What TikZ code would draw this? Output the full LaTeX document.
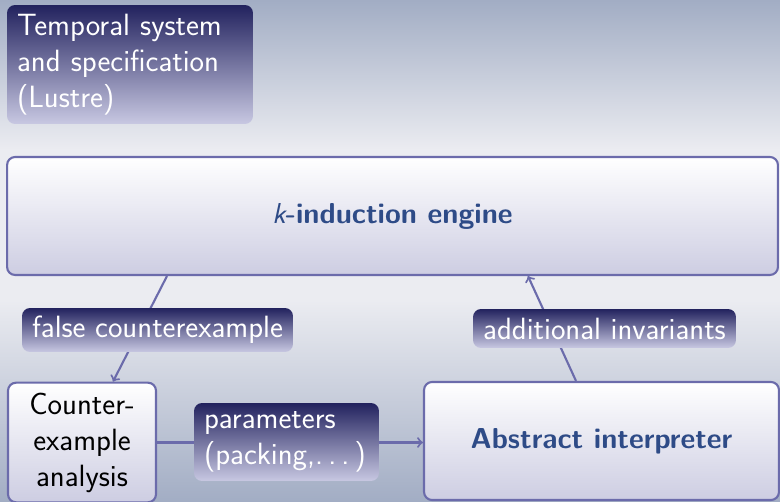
\documentclass[tikz,border=0pt]{standalone}
\usepackage{tikz}
\usetikzlibrary{shapes, arrows, positioning, calc}

\definecolor{slideEdge}{HTML}{A2ADC4}
\definecolor{slideMid}{HTML}{EBECF1}
\definecolor{lineBlue}{HTML}{6B6BAB}
\definecolor{navyTop}{HTML}{22225E}
\definecolor{navyBot}{HTML}{C8C8E2}
\definecolor{boxBot}{HTML}{CDCDE2}
\definecolor{headBlue}{HTML}{2E4B87}

\begin{document}
\begin{tikzpicture}[x=0.02cm,y=-0.02cm,
    every node/.style={font=\sffamily\fontsize{17.5}{20.5}\selectfont},
    box_node/.style={rectangle, rounded corners=0.16cm, draw=lineBlue, line width=1.2pt,
        top color=white, bottom color=boxBot, align=center, inner sep=0.2cm},
    head_text/.style={text=headBlue, font=\sffamily\bfseries\fontsize{16.4}{20}\selectfont},
    tag_node/.style={rectangle, rounded corners=0.16cm, top color=navyTop, bottom color=navyBot,
        text=white, align=left, inner xsep=0.2cm, inner ysep=0.1cm},
    link/.style={draw=lineBlue, line width=1.2pt},
    ]
    % Background
    \useasboundingbox (0,0) rectangle (780,502);
    \fill[slideMid] (0,0) rectangle (780,502);
    \shade[top color=slideEdge, bottom color=slideMid] (0,0) rectangle (780,150);
    \shade[top color=slideMid, bottom color=slideEdge] (0,300) rectangle (780,502);

    % Nodes
    \node[tag_node, minimum width=4.92cm, minimum height=2.38cm, text width=4.52cm] (spec) at (130,64.5) {Temporal system\\and specification\\(Lustre)};
    \node[box_node, head_text, minimum width=15.42cm, minimum height=2.36cm] (kind) at (392.5,216) {{\mdseries\itshape k}-induction engine};
    \node[box_node, minimum width=2.96cm, minimum height=2.30cm] (cex) at (82,442.5) {Counter-\\example\\analysis};
    \node[box_node, head_text, minimum width=7.10cm, minimum height=2.36cm] (absint) at (601.5,441) {Abstract interpreter};

    % Arrows
    \draw[link, ->] ([xshift=3.22cm]kind.south west) -- ([xshift=0.62cm]cex.north);
    \draw[link, ->] (cex.east) -- (cex.east -| absint.west);
    \draw[link, ->] ([xshift=-0.51cm]absint.north) -- ([xshift=2.71cm]kind.south);

    % Labels on the arrows
    \node[tag_node, minimum width=5.42cm, minimum height=0.88cm, align=center] (falsecex) at (157.5,330) {false counterexample};
    \node[tag_node, minimum width=3.70cm, minimum height=1.56cm, text width=3.30cm] (params) at (286.5,442) {parameters\\(packing,.\,.\,.\,)};
    \node[tag_node, minimum width=5.26cm, minimum height=0.78cm, align=center] (addinv) at (604.5,328.5) {additional invariants};
\end{tikzpicture}
\end{document}
